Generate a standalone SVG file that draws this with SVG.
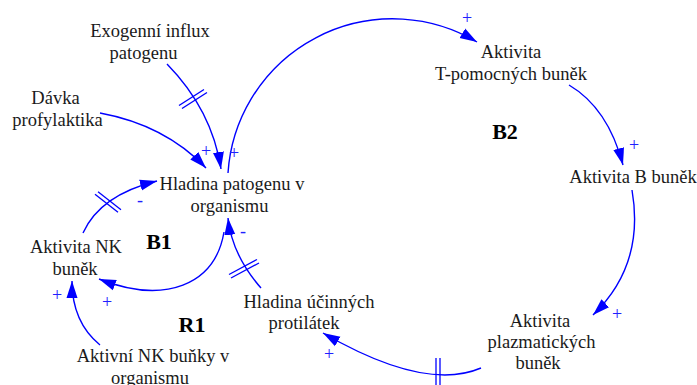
<svg xmlns="http://www.w3.org/2000/svg" width="697" height="385" viewBox="0 0 697 385">
<style>
text{font-family:'Liberation Serif','Times New Roman',Tinos,Times,'Nimbus Roman','DejaVu Serif',serif}
.t{font-size:18.5px;fill:#1a1a1a;text-anchor:middle}
.b{font-size:22px;font-weight:bold;fill:#000;text-anchor:middle}
.p{font-size:18px;fill:#2020ff;text-anchor:middle}
.c{fill:none;stroke:#0000ff;stroke-width:1.4;marker-end:url(#ah)}
.h{stroke:#0000ff;stroke-width:1.3}
</style>
<defs>
<marker id="ah" markerUnits="userSpaceOnUse" markerWidth="20" markerHeight="12" refX="17" refY="6" orient="auto">
<path d="M0,0.5 L17,6 L0,11.5 z" fill="#0000ff"/>
</marker>
</defs>
<rect width="697" height="385" fill="#fff"/>
<g id="connectors">
<path class="c" d="M167,64 Q212,110 221,169"/>
<path class="c" d="M100,113 Q165,125 206,168"/>
<path class="c" d="M228,173 A165,165 0 0,1 477,42"/>
<path class="c" d="M569,85 Q608,108 623,165"/>
<path class="c" d="M632,190 Q645,265 593,315"/>
<path class="c" d="M481,368 Q425,392 323,333"/>
<path class="c" d="M261,288 Q232,255 228,218"/>
<path class="c" d="M224,232 C215,285 165,305 99,279"/>
<path class="c" d="M83,233 Q100,195 157,181"/>
<path class="c" d="M100,345 Q72,322 72,281"/>
<g id="delays">
<line class="h" x1="179" y1="105.5" x2="204" y2="89.5"/>
<line class="h" x1="182" y1="108.5" x2="207" y2="92.5"/>
<line class="h" x1="98" y1="191.7" x2="121" y2="209.7"/>
<line class="h" x1="95" y1="194.3" x2="118" y2="212.3"/>
<line class="h" x1="229" y1="274.5" x2="257" y2="259.5"/>
<line class="h" x1="231" y1="278" x2="259" y2="263"/>
<line class="h" x1="436" y1="358" x2="436" y2="388"/>
<line class="h" x1="440" y1="358" x2="440" y2="388"/>
</g>
<g id="polarities">
<text class="p" x="206" y="156.5">+</text>
<text class="p" x="234" y="158.5">+</text>
<text class="p" x="467" y="23.5">+</text>
<text class="p" x="634" y="150.5">+</text>
<text class="p" x="617" y="319.5">+</text>
<text class="p" x="329" y="359.5">+</text>
<text class="p" x="107" y="307.5">+</text>
<text class="p" x="57" y="300.5">+</text>
<text class="p" x="140" y="206">-</text>
<text class="p" x="243" y="237">-</text>
</g>
</g>
<g id="exogenni"><text class="t" x="150" y="37">Exogenní influx</text><text class="t" x="143.5" y="59">patogenu</text></g>
<g id="davka"><text class="t" x="55.5" y="104">Dávka</text><text class="t" x="57.5" y="126">profylaktika</text></g>
<g id="hladina-patogenu"><text class="t" x="232" y="190">Hladina patogenu v</text><text class="t" x="229.5" y="212">organismu</text></g>
<g id="t-pomocne"><text class="t" x="511" y="58">Aktivita</text><text class="t" x="511" y="80">T-pomocných buněk</text></g>
<g id="b-bunky"><text class="t" x="633" y="183">Aktivita B buněk</text></g>
<g id="nk-bunky"><text class="t" x="76" y="252.5">Aktivita NK</text><text class="t" x="75" y="275">buněk</text></g>
<g id="aktivni-nk"><text class="t" x="153" y="362">Aktivní NK buňky v</text><text class="t" x="150" y="383.5">organismu</text></g>
<g id="protilatky"><text class="t" x="309" y="308">Hladina účinných</text><text class="t" x="304" y="329">protilátek</text></g>
<g id="plazmaticke"><text class="t" x="540" y="327">Aktivita</text><text class="t" x="541.5" y="348">plazmatických</text><text class="t" x="538" y="369">buněk</text></g>
<g id="loops"><text class="b" x="505" y="139">B2</text><text class="b" x="159" y="249">B1</text><text class="b" x="192" y="332">R1</text></g>
</svg>
